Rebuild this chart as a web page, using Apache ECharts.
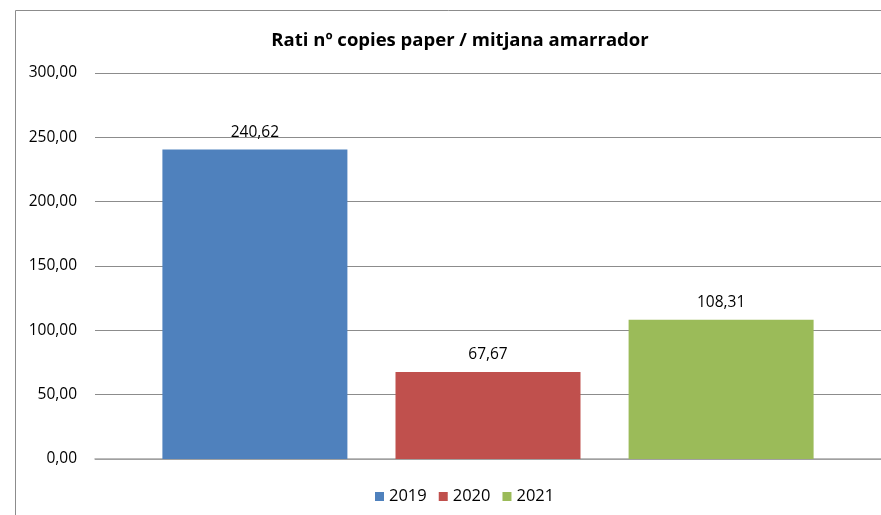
<!DOCTYPE html>
<html>
<head>
<meta charset="utf-8">
<script src="https://cdn.jsdelivr.net/npm/echarts@6/dist/echarts.min.js"></script>
<style>html,body{margin:0;padding:0;background:#fff}#c{width:881px;height:515px}</style>
</head>
<body>
<div id="c"></div>
<script>
const categories = ['Rati'];
const seriesNames = ['2019', '2020', '2021'];
const values2019 = [240.62];
const values2020 = [67.67];
const values2021 = [108.31];
const colors = ['#4F81BD', '#C0504D', '#9BBB59'];
const yTicks = { min: 0, max: 300, interval: 50 };

const fmt = v => v.toFixed(2).replace('.', ',');
const font = 'Open Sans';
const chart = echarts.init(document.getElementById('c'));
const data = [values2019, values2020, values2021];
chart.setOption({
  animation: false,
  title: {
    text: 'Rati nº copies paper / mitjana amarrador',
    left: 455, top: 26, textAlign: 'center',
    textStyle: { fontFamily: font, fontSize: 18.5, fontWeight: 'bold', color: '#000' }
  },
  graphic: [{
    type: 'rect', shape: { x: 15.5, y: 10.5, width: 900, height: 600 },
    style: { fill: 'none', stroke: '#8c8c8c', lineWidth: 1 }, silent: true
  }],
  legend: {
    top: 483, left: 370, itemWidth: 9, itemHeight: 9, itemGap: 12,
    icon: 'rect',
    textStyle: { fontFamily: font, fontSize: 16.5, color: '#000' },
    data: seriesNames
  },
  grid: { left: 95, right: 0, top: 73, bottom: 56, containLabel: false },
  xAxis: {
    type: 'category', data: categories,
    axisLine: { show: true, lineStyle: { color: '#a6a6a6', width: 1.5 } },
    axisTick: { show: false }, axisLabel: { show: false }
  },
  yAxis: {
    type: 'value', min: yTicks.min, max: yTicks.max, interval: yTicks.interval,
    axisLine: { show: false }, axisTick: { show: false },
    axisLabel: { formatter: fmt, margin: 18, fontFamily: font, fontSize: 15.5, color: '#000' },
    splitLine: { lineStyle: { color: '#8c8c8c', width: 1 } }
  },
  series: seriesNames.map((n, i) => ({
    name: n, type: 'bar', data: data[i], barWidth: 185, barGap: '26%',
    itemStyle: { color: colors[i] },
    label: { show: true, position: 'top', distance: 9, formatter: p => fmt(p.value),
      fontFamily: font, fontSize: 15.5, color: '#000' }
  }))
});
</script>
</body>
</html>
